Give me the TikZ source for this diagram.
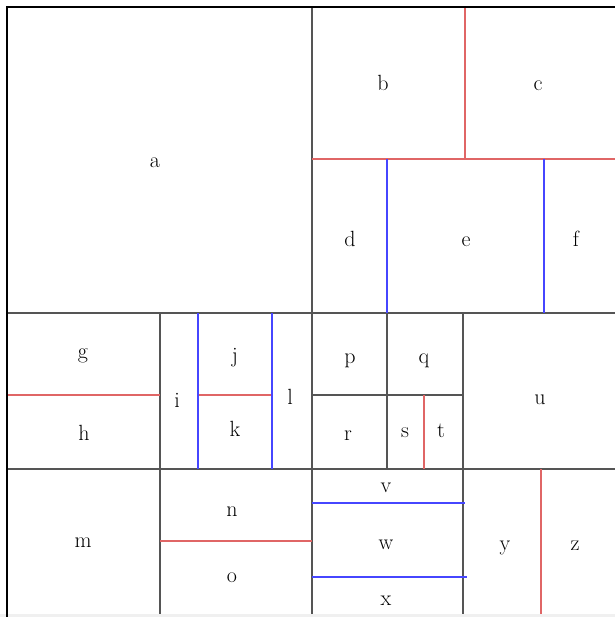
\documentclass[tikz,border=0pt]{standalone}
\usepackage{tikz}
\definecolor{gline}{HTML}{555555}
\definecolor{rline}{HTML}{E06666}
\definecolor{bline}{HTML}{4646FF}
\tikzset{
  blk/.style={draw=gline, line width=1.4pt},
  red/.style={draw=rline, line width=1.4pt},
  blu/.style={draw=bline, line width=1.4pt},
  lab/.style={anchor=base, inner sep=0pt, font=\fontsize{22}{26}\selectfont},
}
\begin{document}
\begin{tikzpicture}[x=1pt,y=-1pt]
\useasboundingbox (0,0) rectangle (615,617);
\fill[white] (0,0) rectangle (615,617);
\fill[gray!12] (0,614) rectangle (615,617);
% main black grid
\draw[blk] (312,7) -- (312,614);
\draw[blk] (7,313) -- (615,313);
\draw[blk] (7,469) -- (615,469);
\draw[blk] (160,313) -- (160,614);
\draw[blk] (463,313) -- (463,614);
\draw[blk] (387,313) -- (387,469);
\draw[blk] (312,395) -- (463,395);
% red lines
\draw[red] (465,7) -- (465,159);
\draw[red] (312,159) -- (615,159);
\draw[red] (7,395) -- (160,395);
\draw[red] (198,395) -- (272,395);
\draw[red] (160,541) -- (312,541);
\draw[red] (424,395) -- (424,469);
\draw[red] (541,469) -- (541,614);
% blue lines
\draw[blu] (387,159) -- (387,313);
\draw[blu] (544,159) -- (544,313);
\draw[blu] (198,313) -- (198,469);
\draw[blu] (272,313) -- (272,469);
\draw[blu] (312,503) -- (465,503);
\draw[blu] (312,577) -- (467,577);
% outer frame
\draw[black, line width=2.2pt] (7,617) -- (7,7) -- (615,7);
% labels
\node[lab] (a) at (155,168) {a};
\node[lab] (b) at (383,91) {b};
\node[lab] (c) at (538,91) {c};
\node[lab] (d) at (350,247) {d};
\node[lab] (e) at (466,247) {e};
\node[lab] (f) at (576,247) {f};
\node[lab] (g) at (83,358) {g};
\node[lab] (h) at (84,440) {h};
\node[lab] (i) at (177,407) {i};
\node[lab] (j) at (235,362) {j};
\node[lab] (k) at (235,436) {k};
\node[lab] (l) at (290,404) {l};
\node[lab] (m) at (83,547) {m};
\node[lab] (n) at (232,516) {n};
\node[lab] (o) at (232,582) {o};
\node[lab] (p) at (350,363) {p};
\node[lab] (q) at (424,363) {q};
\node[lab] (r) at (348,440) {r};
\node[lab] (s) at (405,437) {s};
\node[lab] (t) at (441,437) {t};
\node[lab] (u) at (540,404) {u};
\node[lab] (v) at (386,492) {v};
\node[lab] (w) at (386,549) {w};
\node[lab] (x) at (386,605) {x};
\node[lab] (y) at (505,550) {y};
\node[lab] (z) at (575,550) {z};
\end{tikzpicture}
\end{document}
